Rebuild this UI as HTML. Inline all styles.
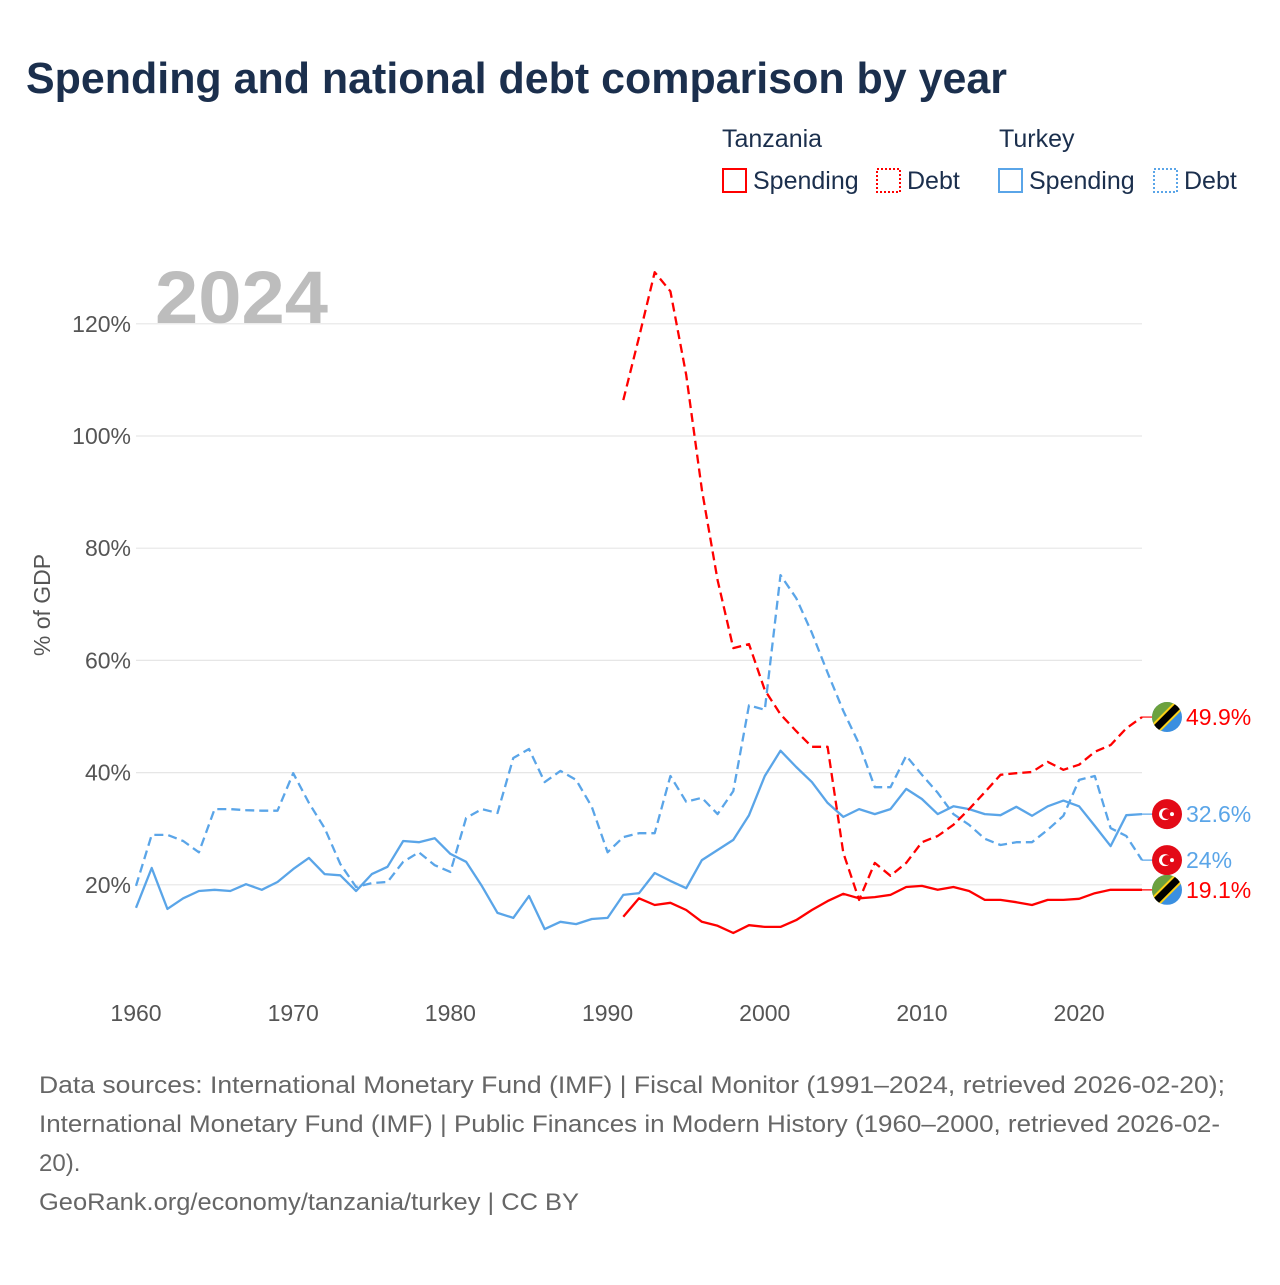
<!DOCTYPE html>
<html><head><meta charset="utf-8"><style>
body{margin:0;background:#fff;width:1280px;height:1280px;overflow:hidden;font-family:"Liberation Sans","DejaVu Sans",sans-serif}
</style></head><body>
<svg id="chart" width="1280" height="1280" viewBox="0 0 1280 1280" xmlns="http://www.w3.org/2000/svg">
<text x="26" y="93" font-size="44" font-weight="bold" fill="#1b2f4d" textLength="981" lengthAdjust="spacingAndGlyphs">Spending and national debt comparison by year</text>
<g font-size="25" fill="#1b2f4d">
<text x="722" y="147">Tanzania</text>
<text x="999" y="147">Turkey</text>
<g><rect x="723" y="169" width="23" height="23" fill="none" stroke="#ff0000" stroke-width="2"/><text x="753" y="189">Spending</text></g>
<g><rect x="877" y="169" width="23" height="23" fill="none" stroke="#ff0000" stroke-width="2" stroke-dasharray="2 2"/><text x="907" y="189">Debt</text></g>
<g><rect x="999" y="169" width="23" height="23" fill="none" stroke="#5aa5e8" stroke-width="2"/><text x="1029" y="189">Spending</text></g>
<g><rect x="1154" y="169" width="23" height="23" fill="none" stroke="#5aa5e8" stroke-width="2" stroke-dasharray="2 2"/><text x="1184" y="189">Debt</text></g>
</g>
<text x="155" y="323" font-size="74" font-weight="bold" fill="#bdbdbd" textLength="173" lengthAdjust="spacingAndGlyphs">2024</text>
<g id="grid"></g><g id="yticks" font-size="23" fill="#555" text-anchor="end"></g><g id="xticks" font-size="23" fill="#555" text-anchor="middle"></g>
<text transform="translate(50,605) rotate(-90)" font-size="23" fill="#555" text-anchor="middle">% of GDP</text>
<g id="series"></g><g id="ends"></g>
<g font-size="24" fill="#666" lengthAdjust="spacingAndGlyphs">
<text x="39" y="1093" textLength="1186" lengthAdjust="spacingAndGlyphs">Data sources: International Monetary Fund (IMF) | Fiscal Monitor (1991–2024, retrieved 2026-02-20);</text>
<text x="39" y="1132" textLength="1181" lengthAdjust="spacingAndGlyphs">International Monetary Fund (IMF) | Public Finances in Modern History (1960–2000, retrieved 2026-02-</text>
<text x="39" y="1171">20).</text>
<text x="39" y="1210" textLength="540" lengthAdjust="spacingAndGlyphs">GeoRank.org/economy/tanzania/turkey | CC BY</text>
</g>
</svg>
<script>
const yTicks=[20,40,60,80,100,120];
const xTicks=[1960,1970,1980,1990,2000,2010,2020];
const turkeyYears0=1960;
const turkeySpending=[15.9,23,15.7,17.6,18.9,19.1,18.9,20.1,19.1,20.5,22.8,24.8,21.9,21.7,18.9,21.9,23.2,27.8,27.6,28.3,25.5,24.1,19.8,15,14.1,18,12.1,13.4,13,13.9,14.1,18.2,18.5,22.1,20.7,19.4,24.4,26.2,28,32.4,39.4,43.9,41,38.3,34.6,32.1,33.5,32.6,33.5,37.1,35.3,32.6,34,33.5,32.6,32.4,33.9,32.3,34,35,34,30.5,26.9,32.4,32.6];
const turkeyDebt=[19.8,28.9,28.9,27.8,25.8,33.5,33.5,33.3,33.2,33.2,39.9,34.6,30.1,23.7,19.6,20.3,20.5,24.1,25.8,23.5,22.3,31.9,33.5,32.8,42.6,44.2,38.3,40.3,38.7,33.9,25.8,28.5,29.2,29.2,39.4,34.8,35.5,32.6,36.7,52,51.2,75.2,71.1,64.9,57.8,51,45.1,37.4,37.4,43,39.6,36.4,32.6,30.7,28.2,27.1,27.6,27.6,29.8,32.3,38.7,39.4,30.1,28.7,24.4];
const tanzaniaYears0=1991;
const tanzaniaSpending=[14.3,17.6,16.4,16.8,15.5,13.4,12.7,11.4,12.8,12.5,12.5,13.7,15.5,17.1,18.4,17.6,17.8,18.2,19.6,19.8,19.1,19.6,18.9,17.3,17.3,16.9,16.4,17.3,17.3,17.5,18.5,19.1,19.1,19.1];
const tanzaniaDebt=[106.4,117.6,129.2,125.8,110.9,90.4,74.3,62.2,62.9,54.7,50.4,47.4,44.6,44.6,25.7,17.3,23.9,21.6,23.9,27.6,28.7,30.7,33.5,36.5,39.6,39.9,40.1,41.9,40.5,41.4,43.7,44.9,47.9,49.9];
const endLabels=["49.9%","32.6%","24%","19.1%"];

const NS="http://www.w3.org/2000/svg";
const X=y=>136+(y-1960)*(1142-136)/64;
const Y=v=>997-v*5.61;
function mk(tag,attrs,parent){const e=document.createElementNS(NS,tag);for(const k in attrs)e.setAttribute(k,attrs[k]);parent.appendChild(e);return e;}
const grid=document.getElementById('grid'),yt=document.getElementById('yticks'),xt=document.getElementById('xticks');
yTicks.forEach(v=>{
 const l=mk('line',{x1:136,x2:1142,y1:Y(v),y2:Y(v),stroke:'#e6e6e6','stroke-width':1.2},grid);
 
 
 const t=mk('text',{x:131,y:Y(v)+8},yt);t.textContent=v+'%';
 
 
});
xTicks.forEach(v=>{
 const t=mk('text',{x:X(v),y:1021},xt);t.textContent=v;
 
 
});
const S=document.getElementById('series');
function line(vals,y0,color,dash,name){
 const pts=vals.map((v,i)=>X(y0+i).toFixed(1)+','+Y(v).toFixed(1)).join(' ');
 const p=mk('polyline',{points:pts,fill:'none',stroke:color,'stroke-width':2.3,'stroke-linejoin':'round'},S);
 if(dash)p.setAttribute('stroke-dasharray',dash);
 
 
 const last=vals[vals.length-1];
 mk('line',{x1:X(2024),x2:1160,y1:Y(last),y2:Y(last),stroke:color,'stroke-width':1.2},S);
}
line(turkeyDebt,turkeyYears0,'#5aa5e8','9 5','turkey-debt-line');
line(turkeySpending,turkeyYears0,'#5aa5e8',null,'turkey-spending-line');
line(tanzaniaDebt,tanzaniaYears0,'#ff0000','9 5','tanzania-debt-line');
line(tanzaniaSpending,tanzaniaYears0,'#ff0000',null,'tanzania-spending-line');
const E=document.getElementById('ends');
const ends=[[tanzaniaDebt[tanzaniaDebt.length-1],'tz','#ff0000'],[turkeySpending[turkeySpending.length-1],'tr','#5aa5e8'],[turkeyDebt[turkeyDebt.length-1],'tr','#5aa5e8'],[tanzaniaSpending[tanzaniaSpending.length-1],'tz','#ff0000']];
ends.forEach((e,i)=>{
 const cy=Y(e[0]),cx=1167;
 const g=mk('g',{},E);
 
 
 if(e[1]==='tr'){
  mk('circle',{cx:cx,cy:cy,r:15,fill:'#e30a17'},g);
  mk('circle',{cx:cx-2,cy:cy,r:6,fill:'#fff'},g);
  mk('circle',{cx:cx,cy:cy,r:5,fill:'#e30a17'},g);
  mk('circle',{cx:cx+5,cy:cy,r:2,fill:'#fff'},g);
 }else{
  mk('clipPath',{id:'c'+i},g).appendChild(document.createElementNS(NS,'circle'));
  const c=g.querySelector('clipPath circle');c.setAttribute('cx',cx);c.setAttribute('cy',cy);c.setAttribute('r',15);
  const gg=mk('g',{'clip-path':'url(#c'+i+')'},g);
  mk('rect',{x:cx-15,y:cy-15,width:30,height:30,fill:'#3a8fe0'},gg);
  mk('polygon',{points:`${cx-15},${cy-15} ${cx+15},${cy-15} ${cx-15},${cy+15}`,fill:'#6ca13e'},gg);
  mk('line',{x1:cx-16,y1:cy+16,x2:cx+16,y2:cy-16,stroke:'#fcd116','stroke-width':11},gg);
  mk('line',{x1:cx-16,y1:cy+16,x2:cx+16,y2:cy-16,stroke:'#000','stroke-width':7},gg);
 }
 const t=mk('text',{x:1186,y:cy+8,'font-size':23,fill:e[2]},E);
 t.textContent=endLabels[i];
 
 
});
</script>
</body></html>
